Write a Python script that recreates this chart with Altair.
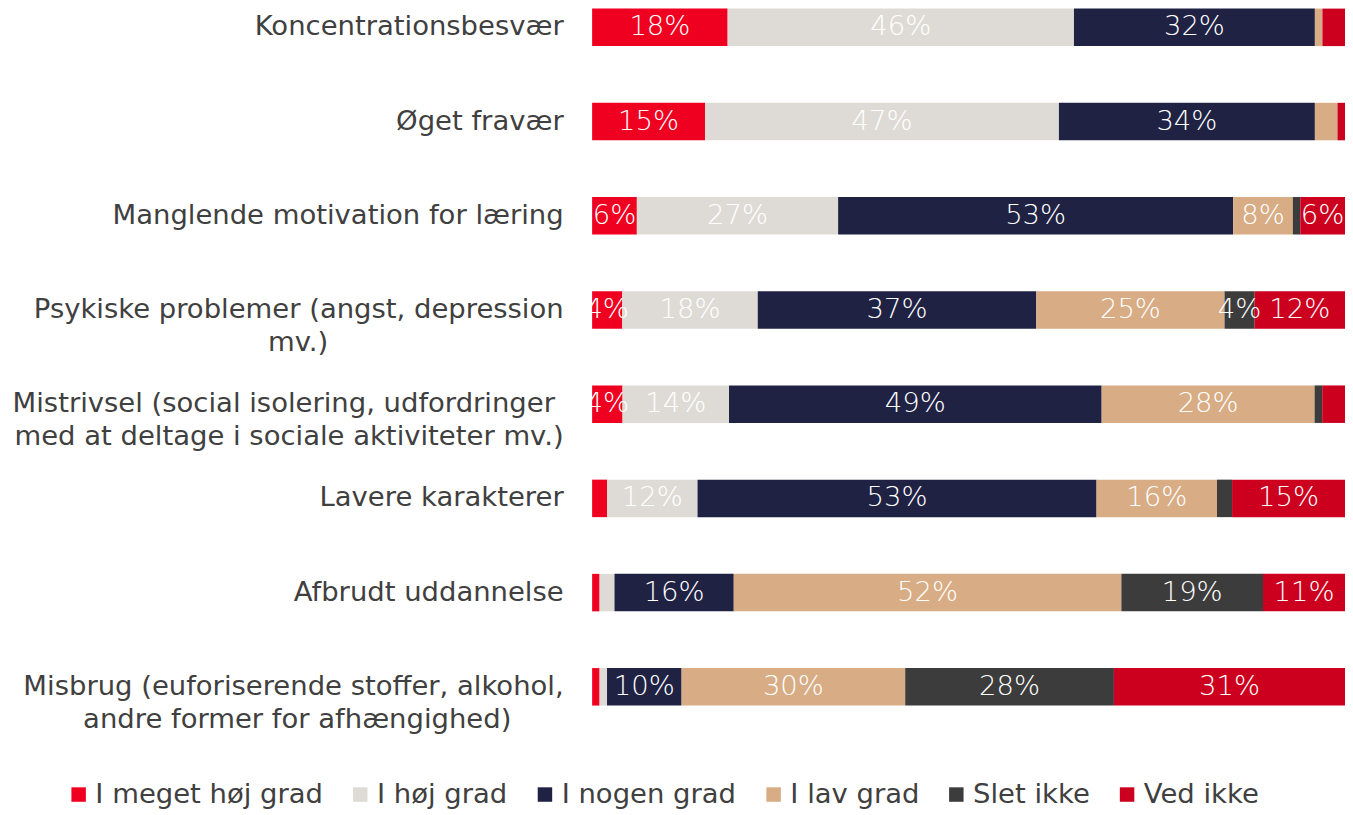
import altair as alt
import pandas as pd

# ---- data -------------------------------------------------------------
CATEGORY_LINES = [
    ["Koncentrationsbesvær"],
    ["Øget fravær"],
    ["Manglende motivation for læring"],
    ["Psykiske problemer (angst, depression", "mv.)"],
    ["Mistrivsel (social isolering, udfordringer", "med at deltage i sociale aktiviteter mv.)"],
    ["Lavere karakterer"],
    ["Afbrudt uddannelse"],
    ["Misbrug (euforiserende stoffer, alkohol,", "andre former for afhængighed)"],
]

SERIES = ["I meget høj grad", "I høj grad", "I nogen grad", "I lav grad", "Slet ikke", "Ved ikke"]

V_MEGET_HOEJ = [18, 15, 6, 4, 4, 2, 1, 1]
V_HOEJ = [46, 47, 27, 18, 14, 12, 2, 1]
V_NOGEN = [32, 34, 53, 37, 49, 53, 16, 10]
V_LAV = [1, 3, 8, 25, 28, 16, 52, 30]
V_SLET = [0, 0, 1, 4, 1, 2, 19, 28]
V_VED = [3, 1, 6, 12, 3, 15, 11, 31]

# ---- styling ----------------------------------------------------------
COLORS = ["#F00020", "#DEDBD6", "#202244", "#D8AC84", "#3C3C3C", "#CC001E"]
FONT = "DejaVu Sans"
TEXT_COLOR = "#404040"
NBSP = "\u00a0"
ZWSP = "\u200b"  # keeps the trailing no-break spaces from being trimmed
# trailing no-break spaces that make the lines of a two-line label look centred
LINE_PAD = {3: (0, 27), 4: (1, 0), 7: (0, 6)}


def label_of(i, lines):
    pads = LINE_PAD.get(i, (0,) * len(lines))
    return "\n".join(line + (NBSP * p + ZWSP if p else "") for line, p in zip(lines, pads))


CATEGORIES = [label_of(i, lines) for i, lines in enumerate(CATEGORY_LINES)]
ALL_VALUES = [V_MEGET_HOEJ, V_HOEJ, V_NOGEN, V_LAV, V_SLET, V_VED]

rows = []
for ci, cat in enumerate(CATEGORIES):
    for si, s in enumerate(SERIES):
        rows.append({"category": cat, "series": s, "order": si, "value": ALL_VALUES[si][ci]})
df = pd.DataFrame(rows)

base = alt.Chart(df).transform_stack(
    stack="value",
    groupby=["category"],
    as_=["x0", "x1"],
    sort=[alt.SortField("order")],
    offset="normalize",
)

y_scale = alt.Scale(paddingInner=0.602, paddingOuter=0)
y_enc = alt.Y(
    "category:N",
    sort=CATEGORIES,
    scale=y_scale,
    axis=alt.Axis(
        title=None,
        ticks=False,
        domain=False,
        grid=False,
        labelFont=FONT,
        labelFontSize=27.5,
        labelColor=TEXT_COLOR,
        labelPadding=29,
        labelLimit=1000,
        labelLineHeight=33,
        labelExpr="split(datum.label, '\\n')",
    ),
)

x_scale = alt.Scale(domain=[0, 1], nice=False, zero=True)

bars = base.mark_bar().encode(
    y=y_enc,
    x=alt.X("x0:Q", axis=None, scale=x_scale),
    x2="x1:Q",
    color=alt.Color(
        "series:N",
        sort=SERIES,
        scale=alt.Scale(domain=SERIES, range=COLORS),
        legend=alt.Legend(
            title=None,
            orient="none",
            direction="horizontal",
            columns=6,
            legendX=-528,
            legendY=773,
            symbolType="square",
            symbolSize=210,
            symbolStrokeWidth=0,
            labelFont=FONT,
            labelFontSize=27.5,
            labelColor=TEXT_COLOR,
            labelOffset=3,
            labelLimit=1000,
            columnPadding=23,
            padding=0,
        ),
    ),
    order=alt.Order("order:Q"),
)

labels = base.transform_filter("datum.value >= 3.5").transform_calculate(
    mid="(datum.x0 + datum.x1) / 2",
    txt="format(datum.value, 'd') + '%'",
).mark_text(
    font=FONT, fontSize=27.5, fontWeight=300, color="white", align="center", baseline="middle"
).encode(
    y=alt.Y("category:N", sort=CATEGORIES, scale=y_scale),
    x=alt.X("mid:Q", axis=None, scale=x_scale),
    text="txt:N",
)

chart = (
    alt.layer(bars, labels)
    .properties(
        width=754,
        height=698,
        background="white",
        padding={"left": 3, "top": 0, "right": 0, "bottom": 0},
    )
    .configure_view(stroke=None)
)

chart.save("out.html", embed_options={"renderer": "svg", "actions": False})
